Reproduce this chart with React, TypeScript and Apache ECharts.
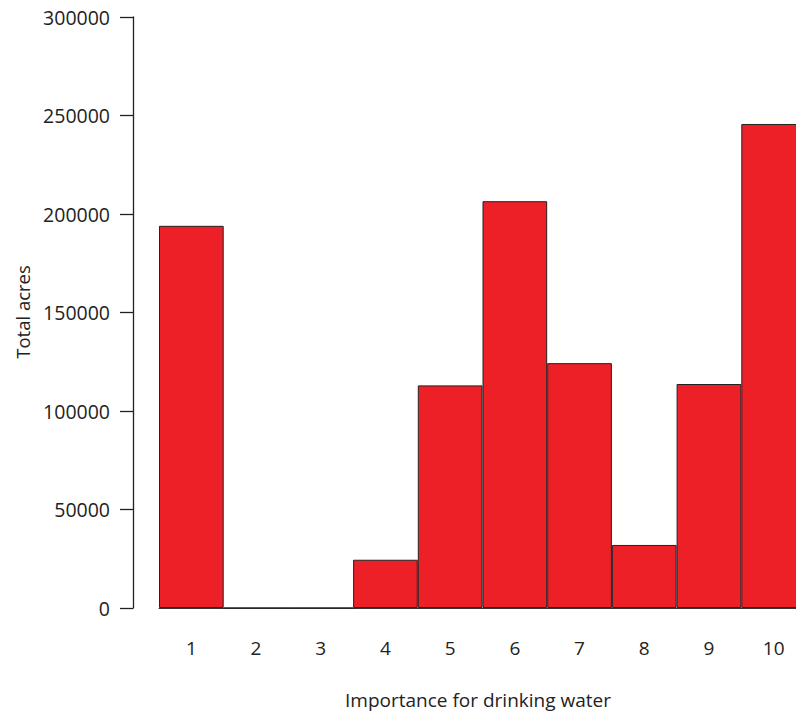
import React, { useEffect, useRef } from "react";
import * as echarts from "echarts";

const categories = ["1", "2", "3", "4", "5", "6", "7", "8", "9", "10"];
const acres = [194000, 0, 0, 24500, 113000, 206500, 124300, 32000, 113700, 245700];
const yTicks = { min: 0, max: 300000, interval: 50000 };
const xTitle = "Importance for drinking water";
const yTitle = "Total acres";

const FONT = "'Open Sans', sans-serif";

export default function App() {
  const ref = useRef<HTMLDivElement>(null);
  useEffect(() => {
    if (!ref.current) return;
    const chart = echarts.init(ref.current, null, { renderer: "svg" });
    chart.setOption({
      animation: false,
      backgroundColor: "#ffffff",
      textStyle: { fontFamily: FONT },
      grid: { left: 159, right: 0, top: 17, bottom: 107, containLabel: false },
      xAxis: {
        type: "category",
        data: categories,
        axisLine: { show: true, lineStyle: { color: "#333", width: 1 } },
        axisTick: { show: false },
        axisLabel: { color: "#222", fontSize: 19, fontFamily: FONT, margin: 30 },
        splitLine: { show: false },
      },
      yAxis: {
        type: "value",
        min: yTicks.min,
        max: yTicks.max,
        interval: yTicks.interval,
        offset: 26,
        axisLine: { show: true, lineStyle: { color: "#222", width: 1.3 } },
        axisTick: { show: true, length: 13, lineStyle: { color: "#222", width: 1.3 } },
        axisLabel: {
          color: "#222",
          fontSize: 19.5,
          fontFamily: FONT,
          margin: 23,
          formatter: (v: number) => String(v),
        },
        splitLine: { show: false },
      },
      series: [
        {
          type: "bar",
          data: acres,
          barWidth: "100%",
          barCategoryGap: "0%",
          itemStyle: { color: "#ED1F27", borderColor: "#222", borderWidth: 1 },
        },
      ],
      graphic: [
        {
          type: "text",
          x: 478,
          y: 700,
          style: {
            text: xTitle,
            fontSize: 19,
            fontFamily: FONT,
            fill: "#222",
            textAlign: "center",
            textVerticalAlign: "middle",
          },
        },
        {
          type: "text",
          x: 22,
          y: 312,
          rotation: Math.PI / 2,
          style: {
            text: yTitle,
            fontSize: 18.5,
            fontFamily: FONT,
            fill: "#222",
            textAlign: "center",
            textVerticalAlign: "middle",
          },
        },
      ],
    });
    return () => chart.dispose();
  }, []);
  return (
    <div style={{ position: "absolute", left: 0, top: 0, width: 796, height: 715, overflow: "hidden" }}>
      <div ref={ref} style={{ width: 806, height: 715 }} />
    </div>
  );
}
